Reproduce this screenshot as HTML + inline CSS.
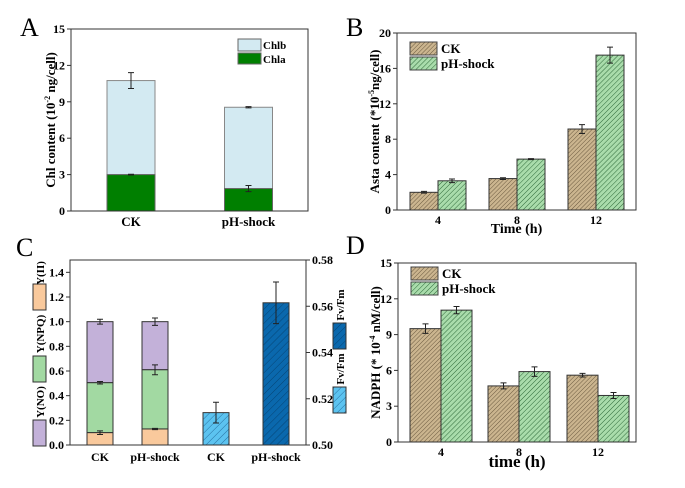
<!DOCTYPE html>
<html><head><meta charset="utf-8"><style>
html,body{margin:0;padding:0;background:#fff}
svg{display:block;font-family:"Liberation Serif",serif}
</style></head><body>
<svg id="fig" width="685" height="488" viewBox="0 0 685 488" xmlns="http://www.w3.org/2000/svg">
<defs>
<pattern id="pBrown" width="3" height="3" patternUnits="userSpaceOnUse" patternTransform="rotate(45)"><rect width="3" height="3" fill="#cbb58f"/><line x1="0" y1="0" x2="0" y2="3" stroke="#6b5a40" stroke-width="1"/></pattern>
<pattern id="pGreen" width="3.5" height="3.5" patternUnits="userSpaceOnUse" patternTransform="rotate(45)"><rect width="3.5" height="3.5" fill="#a9dcab"/><line x1="0" y1="0" x2="0" y2="3.5" stroke="#2f6a3a" stroke-width="1"/></pattern>
<pattern id="pLBlue" width="5" height="5" patternUnits="userSpaceOnUse" patternTransform="rotate(45)"><rect width="5" height="5" fill="#5cc3f0"/><line x1="0" y1="0" x2="0" y2="5" stroke="#1a5f90" stroke-width="0.8"/></pattern>
<pattern id="pDBlue" width="5" height="5" patternUnits="userSpaceOnUse" patternTransform="rotate(45)"><rect width="5" height="5" fill="#0a68ad"/><line x1="0" y1="0" x2="0" y2="5" stroke="#033a66" stroke-width="0.8"/></pattern>
</defs>
<g id="root"></g>
</svg>
<script>
// Panel A
const aCats = ["CK","pH-shock"];
const aChla = [3.0, 1.85];
const aTotal = [10.75, 8.55];
const aChlaErr = [0.03, 0.25];
const aTotalErr = [0.65, 0.05];
const aTicks = [0,3,6,9,12,15];
// Panel B
const bCats = ["4","8","12"];
const bCK = [2.0, 3.55, 9.15];
const bPH = [3.3, 5.75, 17.5];
const bCKErr = [0.1, 0.1, 0.5];
const bPHErr = [0.2, 0.06, 0.9];
const bTicks = [0,4,8,12,16,20];
// Panel C
const cCats = ["CK","pH-shock","CK","pH-shock"];
const cYII = [0.1, 0.13];
const cNPQtop = [0.505, 0.61];
const cTotal = [1.0, 1.0];
const cYIIErr = [0.015, 0.005];
const cNPQErr = [0.01, 0.04];
const cTotalErr = [0.02, 0.03];
const cFv = [0.514, 0.5615];
const cFvErr = [0.0045, 0.009];
const cLTicks = [0,0.2,0.4,0.6,0.8,1.0,1.2,1.4];
const cRTicks = [0.50,0.52,0.54,0.56,0.58];
// Panel D
const dCats = ["4","8","12"];
const dCK = [9.5, 4.7, 5.6];
const dPH = [11.05, 5.9, 3.9];
const dCKErr = [0.4, 0.25, 0.15];
const dPHErr = [0.3, 0.4, 0.25];
const dTicks = [0,3,6,9,12,15];

const NS="http://www.w3.org/2000/svg";
const root=document.getElementById('root');
function el(tag,attrs,parent,txt){const e=document.createElementNS(NS,tag);for(const k in attrs)e.setAttribute(k,attrs[k]);if(txt!==undefined)e.textContent=txt;(parent||root).appendChild(e);return e;}
function lin(d0,d1,r0,r1){return v=>r0+(v-d0)/(d1-d0)*(r1-r0);}
function errBar(g,x,y1,y2,w){
  const e=el('path',{d:`M${x},${y1}V${y2}M${x-w},${y1}H${x+w}M${x-w},${y2}H${x+w}`,stroke:'#222','stroke-width':1,fill:'none'},g);
  
  
}
function frame(g,x0,x1,y0,y1,right){
  const r=el('rect',{x:x0,y:y0,width:x1-x0,height:y1-y0,fill:'none',stroke:'#333','stroke-width':1},g);
  
  
}
function yAxis(g,y,ticks,x0,fmt){
  ticks.forEach(t=>{
    el('line',{x1:x0,x2:x0-4,y1:y(t),y2:y(t),stroke:'#333'},g);
    const tx=el('text',{x:x0-6,y:y(t)+4,'text-anchor':'end','font-size':12,'font-weight':'bold'},g,fmt?fmt(t):t);
    
    
  });
}
function panelLetter(t,x,y){const e=el('text',{x:x,y:y,'font-size':26},root,t);
  
  }

// ---------- Panel A ----------
(function(){
  const g=el('g',{});
  
  
  const X0=71,X1=308,Y0=29,Y1=211;
  const y=lin(0,15,Y1,Y0);
  const cx=[131,248.5];const w=48;
  aCats.forEach((c,i)=>{
    const b=el('rect',{x:cx[i]-w/2,y:y(aTotal[i]),width:w,height:y(aChla[i])-y(aTotal[i]),fill:'#d3eaf2',stroke:'#888'},g);
    
    
    const a=el('rect',{x:cx[i]-w/2,y:y(aChla[i]),width:w,height:y(0)-y(aChla[i]),fill:'#007f00',stroke:'#666'},g);
    
    
    errBar(g,cx[i],y(aTotal[i]+aTotalErr[i]),y(aTotal[i]-aTotalErr[i]),3);
    errBar(g,cx[i],y(aChla[i]+aChlaErr[i]),y(aChla[i]-aChlaErr[i]),3);
    const t=el('text',{x:cx[i],y:226,'text-anchor':'middle','font-size':13,'font-weight':'bold'},g,c);
    
    
  });
  frame(g,X0,X1,Y0,Y1);
  yAxis(g,y,aTicks,X0);
  const yl=el('text',{transform:'translate(55,120) rotate(-90)','text-anchor':'middle','font-size':13,'font-weight':'bold'},g);
  yl.innerHTML='Chl content (10<tspan dy="-5" font-size="8">-2</tspan><tspan dy="5"> ng/cell)</tspan>';
  
  
  const l1=el('rect',{x:238,y:39,width:23,height:12,fill:'#d3eaf2',stroke:'#666'},g);
  
  
  const l2=el('rect',{x:238,y:53,width:23,height:11,fill:'#007f00',stroke:'#666'},g);
  
  
  const t1=el('text',{x:263,y:49,'font-size':11,'font-weight':'bold'},g,'Chlb');
  
  
  const t2=el('text',{x:263,y:63,'font-size':11,'font-weight':'bold'},g,'Chla');
  
  
})();
panelLetter('A',20,36);

// grouped bar helper for B and D
function grouped(name,X0,X1,Y0,Y1,max,cats,ck,ph,ckE,phE,ticks,centers,w,ytitleHTML,ytx,xtitle,xtFont,xtY,legY){
  const g=el('g',{});
  
  
  const y=lin(0,max,Y1,Y0);
  cats.forEach((c,i)=>{
    const a=el('rect',{x:centers[i]-w,y:y(ck[i]),width:w,height:y(0)-y(ck[i]),fill:'url(#pBrown)',stroke:'#333'},g);
    
    
    const b=el('rect',{x:centers[i],y:y(ph[i]),width:w,height:y(0)-y(ph[i]),fill:'url(#pGreen)',stroke:'#333'},g);
    
    
    errBar(g,centers[i]-w/2,y(ck[i]+ckE[i]),y(ck[i]-ckE[i]),3);
    errBar(g,centers[i]+w/2,y(ph[i]+phE[i]),y(ph[i]-phE[i]),3);
    const t=el('text',{x:centers[i],y:Y1+14,'text-anchor':'middle','font-size':12,'font-weight':'bold'},g,c);
    
    
  });
  frame(g,X0,X1,Y0,Y1);
  yAxis(g,y,ticks,X0);
  const yl=el('text',{transform:`translate(${ytx},${(Y0+Y1)/2}) rotate(-90)`,'text-anchor':'middle','font-size':13,'font-weight':'bold'},g);
  yl.innerHTML=ytitleHTML;
  
  
  const xl=el('text',{x:(X0+X1)/2,y:xtY,'text-anchor':'middle','font-size':xtFont,'font-weight':'bold'},g,xtitle);
  
  
  const s1=el('rect',{x:X0+13,y:legY,width:27,height:13,fill:'url(#pBrown)',stroke:'#444'},g);
  
  
  const s2=el('rect',{x:X0+13,y:legY+15,width:27,height:13,fill:'url(#pGreen)',stroke:'#444'},g);
  
  
  const e1=el('text',{x:X0+44,y:legY+11,'font-size':13,'font-weight':'bold'},g,'CK');
  
  
  const e2=el('text',{x:X0+44,y:legY+26,'font-size':13,'font-weight':'bold'},g,'pH-shock');
  
  
}
grouped('panel-b-chart',397,636,33,210,20,bCats,bCK,bPH,bCKErr,bPHErr,bTicks,[438,517,596],28,
  'Asta content (*10<tspan dy="-5" font-size="8">-5</tspan><tspan dy="5">ng/cell)</tspan>',379,'Time (h)',14,233,42);
panelLetter('B',346,36);
grouped('panel-d-chart',398,636,263,442,15,dCats,dCK,dPH,dCKErr,dPHErr,dTicks,[441,519,598],31,
  'NADPH (* 10<tspan dy="-5" font-size="8">-4</tspan><tspan dy="5"> nM/cell)</tspan>',380,'time (h)',17,467,267);
panelLetter('D',346,254);

// ---------- Panel C ----------
(function(){
  const g=el('g',{});
  
  
  const X0=70,X1=306,Y0=260,Y1=445;
  const y=lin(0,1.5,Y1,Y0);
  const yr=lin(0.50,0.58,Y1,Y0);
  const cx=[100,155,216,276];const w=26;
  for(let i=0;i<2;i++){
    const c=cCats[i];
    const p=el('rect',{x:cx[i]-w/2,y:y(cTotal[i]),width:w,height:y(cNPQtop[i])-y(cTotal[i]),fill:'#c3b1d9',stroke:'#333'},g);
    
    
    const n=el('rect',{x:cx[i]-w/2,y:y(cNPQtop[i]),width:w,height:y(cYII[i])-y(cNPQtop[i]),fill:'#a2d9a2',stroke:'#333'},g);
    
    
    const o=el('rect',{x:cx[i]-w/2,y:y(cYII[i]),width:w,height:y(0)-y(cYII[i]),fill:'#f9c99c',stroke:'#333'},g);
    
    
    errBar(g,cx[i],y(cTotal[i]+cTotalErr[i]),y(cTotal[i]-cTotalErr[i]),3);
    errBar(g,cx[i],y(cNPQtop[i]+cNPQErr[i]),y(cNPQtop[i]-cNPQErr[i]),3);
    errBar(g,cx[i],y(cYII[i]+cYIIErr[i]),y(cYII[i]-cYIIErr[i]),3);
  }
  const fills=['url(#pLBlue)','url(#pDBlue)'];
  for(let j=0;j<2;j++){
    const i=j+2;
    const b=el('rect',{x:cx[i]-w/2,y:yr(cFv[j]),width:w,height:yr(0.50)-yr(cFv[j]),fill:fills[j],stroke:'#333'},g);
    
    
    errBar(g,cx[i],yr(cFv[j]+cFvErr[j]),yr(cFv[j]-cFvErr[j]),3);
  }
  cCats.forEach((c,i)=>{
    const t=el('text',{x:cx[i],y:461,'text-anchor':'middle','font-size':12,'font-weight':'bold'},g,c);
    
    
  });
  frame(g,X0,X1,Y0,Y1);
  yAxis(g,y,cLTicks,X0,v=>v.toFixed(1));
  cRTicks.forEach(t=>{
    el('line',{x1:X1,x2:X1+4,y1:yr(t),y2:yr(t),stroke:'#333'},g);
    const tx=el('text',{x:X1+6,y:yr(t)+4,'font-size':12,'font-weight':'bold'},g,t.toFixed(2));
    
    
  });
  // left legend
  const leg=[['Y(II)','#f9c99c',284,273],['Y(NPQ)','#a2d9a2',356,334],['Y(NO)','#c3b1d9',420,402]];
  leg.forEach(l=>{
    const s=el('rect',{x:33,y:l[2],width:13,height:26,fill:l[1],stroke:'#333'},g);
    
    
    const t=el('text',{transform:`translate(44,${l[3]}) rotate(-90)`,'text-anchor':'middle','font-size':11,'font-weight':'bold'},g,l[0]);
    
    
  });
  const rl=[['url(#pDBlue)',323,305,'dark'],['url(#pLBlue)',387,369,'light']];
  rl.forEach(l=>{
    const s=el('rect',{x:333,y:l[1],width:13,height:26,fill:l[0],stroke:'#333'},g);
    
    
    const t=el('text',{transform:`translate(344,${l[2]}) rotate(-90)`,'text-anchor':'middle','font-size':11,'font-weight':'bold'},g,'Fv/Fm');
    
    
  });
})();
panelLetter('C',16,256);
</script>
</body></html>
